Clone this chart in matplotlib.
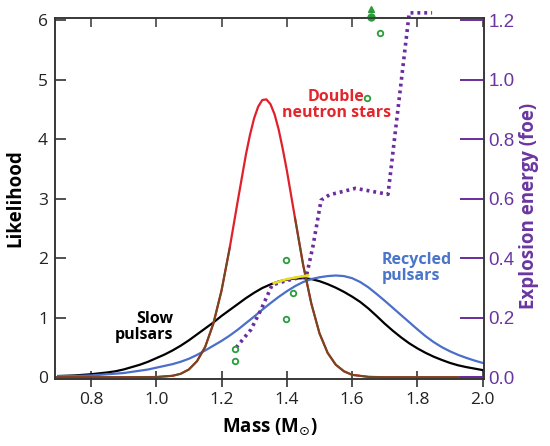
import numpy as np
import matplotlib
matplotlib.use("Agg")
import matplotlib.pyplot as plt

# mass grid (solar masses) and likelihood curves
mass = [0.700, 0.725, 0.750, 0.775, 0.800, 0.825, 0.850, 0.875, 0.900, 0.925,
        0.950, 0.975, 1.000, 1.025, 1.050, 1.075, 1.100, 1.125, 1.150, 1.175,
        1.200, 1.225, 1.250, 1.275, 1.300, 1.325, 1.350, 1.375, 1.400, 1.425,
        1.450, 1.475, 1.500, 1.525, 1.550, 1.575, 1.600, 1.625, 1.650, 1.675,
        1.700, 1.725, 1.750, 1.775, 1.800, 1.825, 1.850, 1.875, 1.900, 1.925,
        1.950, 1.975, 2.000]
slow = [0.02, 0.025, 0.03, 0.04, 0.05, 0.065, 0.08, 0.10, 0.13, 0.17,
        0.21, 0.26, 0.32, 0.38, 0.45, 0.53, 0.62, 0.72, 0.82, 0.92,
        1.03, 1.13, 1.23, 1.33, 1.42, 1.50, 1.56, 1.61, 1.64, 1.66,
        1.665, 1.65, 1.615, 1.565, 1.505, 1.435, 1.355, 1.265, 1.155, 1.03,
        0.90, 0.78, 0.67, 0.57, 0.485, 0.41, 0.345, 0.29, 0.24, 0.20,
        0.17, 0.145, 0.12]
recycled = [0.02, 0.02, 0.02, 0.025, 0.03, 0.04, 0.05, 0.06, 0.07, 0.09,
            0.11, 0.13, 0.16, 0.19, 0.22, 0.26, 0.31, 0.375, 0.45, 0.53,
            0.61, 0.70, 0.80, 0.91, 1.02, 1.135, 1.245, 1.35, 1.445, 1.53,
            1.60, 1.65, 1.68, 1.70, 1.71, 1.70, 1.665, 1.60, 1.51, 1.40,
            1.285, 1.165, 1.045, 0.925, 0.805, 0.69, 0.59, 0.505, 0.435, 0.375,
            0.325, 0.28, 0.24]

dns_mass = [0.70, 0.80, 0.90, 1.00, 1.05, 1.075, 1.10, 1.125, 1.15, 1.175, 1.20, 1.225,
            1.25, 1.275, 1.2875, 1.30, 1.3125, 1.325, 1.3375, 1.35, 1.3625, 1.375, 1.3875,
            1.40, 1.4125, 1.425, 1.45, 1.475, 1.50, 1.525, 1.55, 1.575, 1.60, 1.65, 1.70,
            1.80, 1.90, 2.00]
dns = [0.0, 0.0, 0.0, 0.003, 0.024, 0.058, 0.13, 0.27, 0.51, 0.90, 1.455, 2.17,
       2.97, 3.75, 4.08, 4.355, 4.55, 4.66, 4.67, 4.59, 4.42, 4.165, 3.84,
       3.48, 3.08, 2.68, 1.89, 1.24, 0.74, 0.41, 0.21, 0.10, 0.04, 0.006, 0.0,
       0.0, 0.0, 0.0]

hl_mass = [1.36, 1.40, 1.44, 1.465]
hl_like = [1.58, 1.65, 1.69, 1.71]

# explosion energy (foe), right axis
e_mass = [1.245, 1.29, 1.32, 1.355, 1.40, 1.46, 1.48, 1.505, 1.53, 1.61, 1.71, 1.775, 1.845]
e_foe = [0.10, 0.16, 0.225, 0.31, 0.325, 0.34, 0.44, 0.595, 0.613, 0.635, 0.615, 1.225, 1.225]

obs_mass = [1.241, 1.241, 1.398, 1.418, 1.398, 1.645, 1.685]
obs_foe = [0.095, 0.055, 0.394, 0.282, 0.195, 0.938, 1.156]
lim_mass = [1.658]
lim_foe = [1.21]

purple = '#6a2c9e'
green = '#2a9d3a'

fig = plt.figure(figsize=(5.5, 4.46), dpi=100)
ax = fig.add_axes([0.1, 0.151, 0.78, 0.8094])

ax.plot(mass, slow, color='black', lw=1.6)
ax.plot(mass, recycled, color='#4a6fc9', lw=1.6)
dns_arr = np.array(dns)
ax.plot(dns_mass, dns, color='#e0202a', lw=1.6)
ax.plot(dns_mass, np.where(dns_arr < 2.7, dns_arr, np.nan), color='#6e4a20', lw=1.4)

ax.set_xlim(0.69, 2.004)
ax.set_ylim(-0.024, 6.044)
ax.set_xticks([0.8, 1.0, 1.2, 1.4, 1.6, 1.8, 2.0])
ax.set_xticklabels(['0.8', '1.0', '1.2', '1.4', '1.6', '1.8', '2.0'])
ax.set_yticks([0, 1, 2, 3, 4, 5, 6])
ax.tick_params(axis='x', direction='inout', length=11, width=1.1, pad=4,
               labelsize=12.5, colors='#222222')
ax.tick_params(axis='y', direction='in', length=8, width=1.1, pad=5,
               labelsize=12.5, colors='#222222')
for lab in ax.get_xticklabels() + ax.get_yticklabels():
    lab.set_family('Open Sans')
for s in ax.spines.values():
    s.set_color('#333333')
    s.set_linewidth(1.1)

top = ax.secondary_xaxis('top')
top.set_xticks([0.8, 1.0, 1.2, 1.4, 1.6, 1.8, 2.0])
top.tick_params(direction='in', length=6.5, width=1.1, labeltop=False, colors='#333333')
top.spines['top'].set_visible(False)

ax2 = ax.twinx()
ax2.set_ylim(-0.0048, 1.2088)
ax2.plot(e_mass, e_foe, color=purple, lw=2.6, linestyle=(0, (0.8, 1.1)),
         dash_capstyle='butt', clip_on=False)
ax2.plot(hl_mass, hl_like, color='#e6e01c', lw=1.8, transform=ax.transData)
ax2.plot(obs_mass, obs_foe, 'o', ms=4, mfc='white', mec=green, mew=1.3, clip_on=False)
ax2.plot(lim_mass, lim_foe, 'o', ms=5, color=green, clip_on=False)
ax2.plot(lim_mass, [f + 0.028 for f in lim_foe], '^', ms=5, color=green, clip_on=False)

ax2.set_yticks([0.0, 0.2, 0.4, 0.6, 0.8, 1.0, 1.2])
ax2.set_yticklabels(['0.0', '0.2', '0.4', '0.6', '0.8', '1.0', '1.2'])
ax2.tick_params(axis='y', direction='in', length=17, width=1.4, pad=3,
                color=purple, labelcolor='#6a35a0', labelsize=13.5)
for lab in ax2.get_yticklabels():
    lab.set_family('Liberation Sans')
for s in ax2.spines.values():
    s.set_color('#333333')
    s.set_linewidth(1.1)

ax.text(1.551, 4.58, 'Double\nneutron stars', color='#e3262c', ha='center', va='center',
        family='Open Sans', weight='bold', fontsize=11.5, linespacing=1.0)
ax.text(1.691, 1.84, 'Recycled\npulsars', color='#4a75c8', ha='left', va='center',
        family='Open Sans', weight='bold', fontsize=11.5, linespacing=1.0)
ax.text(1.052, 0.845, 'Slow\npulsars', color='black', ha='right', va='center',
        family='Open Sans', weight='bold', fontsize=11.5, linespacing=1.0)

fig.text(15.5 / 550, 1 - 198 / 446, 'Likelihood', rotation=90, ha='center', va='center',
         family='Open Sans', weight='bold', fontsize=13.5)
fig.text(270 / 550, 1 - 427 / 446, r'Mass (M$_{\odot}$)', ha='center', va='center',
         family='Open Sans', weight='bold', fontsize=13.5)
fig.text(529 / 550, 1 - 206 / 446, 'Explosion energy (foe)', rotation=90, ha='center',
         va='center', family='Open Sans', weight='bold', fontsize=13.5, color='#6a35a0')

fig.savefig('out.png', dpi=100)
